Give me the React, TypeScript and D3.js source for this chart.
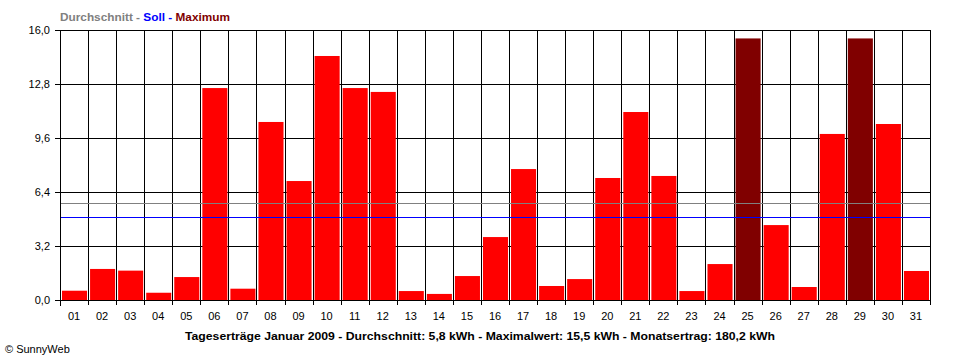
import React from "react";
import * as d3 from "d3";

const days = ["01","02","03","04","05","06","07","08","09","10","11","12","13","14","15","16","17","18","19","20","21","22","23","24","25","26","27","28","29","30","31"];
const yields = [0.55,1.84,1.74,0.43,1.36,12.56,0.67,10.55,7.05,14.46,12.56,12.33,0.53,0.36,1.42,3.73,7.76,0.83,1.24,7.23,11.14,7.35,0.53,2.13,15.5,4.44,0.77,9.84,15.5,10.43,1.72];
const yTicks = [0, 3.2, 6.4, 9.6, 12.8, 16.0];
const averageValue = 5.75;
const targetValue = 4.9;
const maxValue = 15.5;
const titleText = "Tageserträge Januar 2009 - Durchschnitt: 5,8 kWh - Maximalwert: 15,5 kWh - Monatsertrag: 180,2 kWh";

const W = 960, H = 360;
const FONT = "'Liberation Sans', Arial, sans-serif";

export default function App() {
  const x = d3.scaleBand<string>().domain(days).range([60, 930]).paddingInner(0).paddingOuter(0);
  const y = d3.scaleLinear().domain([0, 16]).range([300, 30]);
  const bw = x.bandwidth();
  const boundaries = d3.range(days.length + 1).map((i) => 60 + i * bw);
  const fmt = (v: number) => v.toFixed(1).replace(".", ",");
  const crisp = (v: number) => Math.round(v) + 0.5;

  return (
    <svg width={W} height={H} style={{ position: "absolute", left: 0, top: 0, background: "#fff" }} fontFamily={FONT}>
      <rect x={0} y={0} width={W} height={H} fill="#fff" />
      {/* legend */}
      <text x={60} y={21} fontSize={11} fontWeight="bold" textLength={170} lengthAdjust="spacingAndGlyphs">
        <tspan fill="#808080">Durchschnitt - </tspan>
        <tspan fill="#0000ff">Soll - </tspan>
        <tspan fill="#800000">Maximum</tspan>
      </text>
      {/* horizontal grid */}
      {yTicks.map((t) => (
        <g key={"h" + t}>
          <line x1={55} x2={930} y1={crisp(y(t))} y2={crisp(y(t))} stroke="#000" strokeWidth={1} />
          <text x={50} y={y(t) + 4} fontSize={11} textAnchor="end" fill="#000">{fmt(t)}</text>
        </g>
      ))}
      {/* vertical grid + x ticks */}
      {boundaries.map((bx, i) => (
        <line key={"v" + i} x1={crisp(bx)} x2={crisp(bx)} y1={30} y2={i === 0 ? 306 : 305} stroke="#000" strokeWidth={1} />
      ))}
      {/* bars */}
      {days.map((d, i) => (
        <rect
          key={"b" + d}
          x={(x(d) as number) + 2}
          y={y(yields[i])}
          width={bw - 3}
          height={y(0) - y(yields[i])}
          fill={yields[i] >= maxValue ? "#800000" : "#ff0000"}
        />
      ))}
      {/* axis line */}
      <line x1={crisp(60)} x2={crisp(60)} y1={30} y2={306} stroke="#000" />
      <line x1={55} x2={930} y1={crisp(y(0))} y2={crisp(y(0))} stroke="#000" />
      {/* average & target lines */}
      <line x1={61} x2={930} y1={crisp(y(averageValue))} y2={crisp(y(averageValue))} stroke="#808080" />
      <line x1={61} x2={930} y1={crisp(y(targetValue))} y2={crisp(y(targetValue))} stroke="#0000ff" />
      {/* x labels */}
      {days.map((d) => (
        <text key={"l" + d} x={(x(d) as number) + bw / 2} y={320} fontSize={11} textAnchor="middle" fill="#000">{d}</text>
      ))}
      <text x={480} y={340} fontSize={11} fontWeight="bold" textAnchor="middle" fill="#000" textLength={590} lengthAdjust="spacingAndGlyphs">{titleText}</text>
      <text x={5} y={353} fontSize={11} fill="#000">© SunnyWeb</text>
    </svg>
  );
}
